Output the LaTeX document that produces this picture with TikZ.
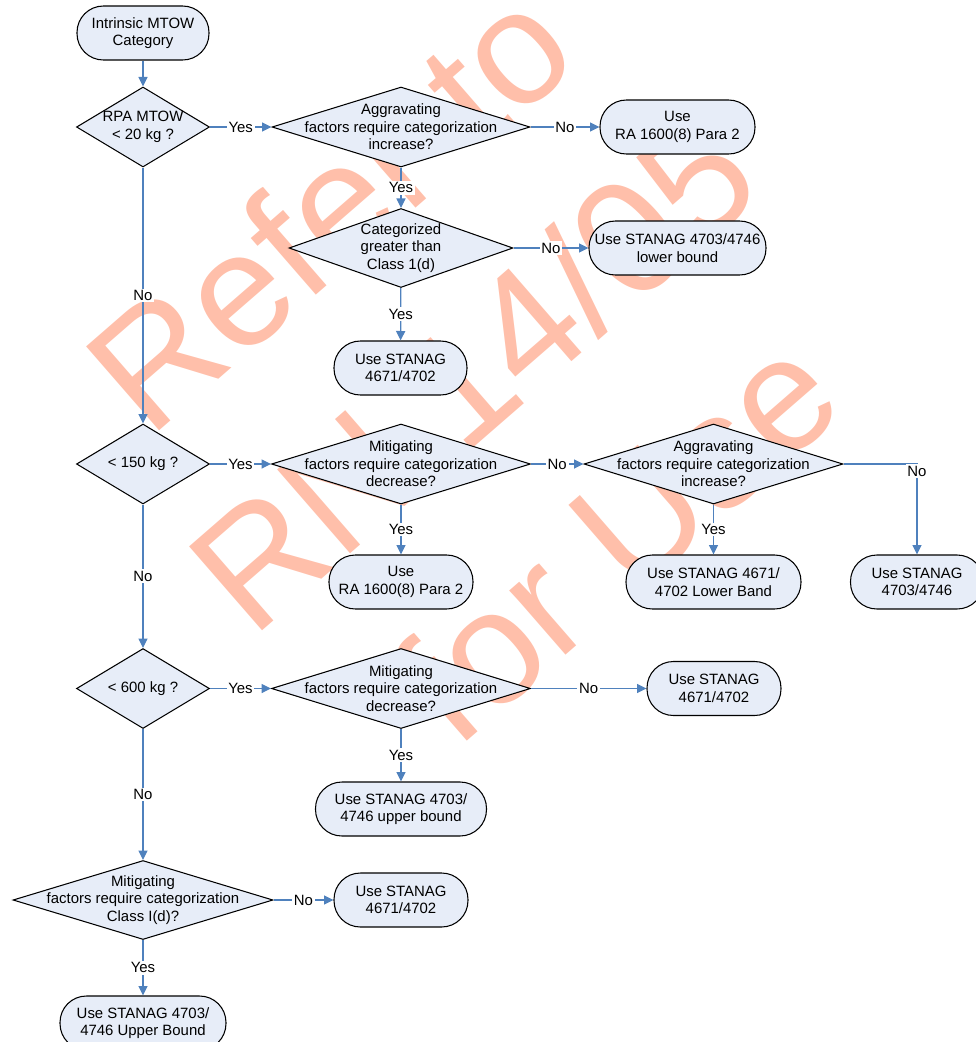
\documentclass[tikz,border=0pt]{standalone}
\usepackage{fontspec}
\setmainfont{Liberation Sans}
\usetikzlibrary{shapes.geometric, arrows.meta}
\definecolor{flowblue}{RGB}{79,129,189}
\definecolor{boxfill}{RGB}{231,237,248}
\definecolor{wmarkred}{RGB}{255,191,170}

\begin{document}
\begin{tikzpicture}[x=0.02cm, y=-0.02cm,
    every node/.style={font=\fontsize{8.5}{9.9}\selectfont},
    term/.style={draw, line width=0.6pt, fill=boxfill, rounded corners=15pt, align=center, minimum height=1.08cm, inner sep=1pt},
    dec/.style={draw, line width=0.6pt, fill=boxfill, diamond, align=center, inner sep=-80pt, minimum height=1.6cm},
    flow/.style={flowblue, line width=0.7pt, -{Triangle[length=5.4pt, width=5.2pt]}},
    lbl/.style={fill=white, text=black, inner sep=1pt},
    wmark/.style={text=wmarkred, align=center, font=\fontsize{92}{124}\selectfont}
  ]
  \useasboundingbox (0,0) rectangle (976,1042);

  % watermark
  \node[wmark, rotate=41] (wm) at (472,372) {Refer to\\RN 14/05\\for Use};

  % first column
  \node[term, minimum width=2.64cm] (start) at (143,33) {Intrinsic MTOW\\Category};
  \node[dec, minimum width=2.66cm] (q20) at (143,127) {RPA MTOW\\< 20 kg ?};
  \node[dec, minimum width=2.66cm] (q150) at (143,464) {< 150 kg ?};
  \node[dec, minimum width=2.66cm] (q600) at (143,688.5) {< 600 kg ?};
  \node[dec, minimum width=5.2cm, minimum height=1.58cm] (mitcls) at (143,900) {Mitigating\\factors require categorization\\Class I(d)?};
  \node[term, minimum width=3.32cm] (upBound) at (143,1023) {Use STANAG 4703/\\4746 Upper Bound};

  % < 20 kg branch
  \node[dec, minimum width=5.16cm] (agg1) at (401,127) {Aggravating\\factors require categorization\\increase?};
  \node[term, minimum width=3.1cm] (ra1) at (677.5,127) {Use\\RA 1600(8) Para 2};
  \node[dec, minimum width=4.48cm, minimum height=1.58cm] (cat1d) at (401,248) {Categorized\\greater than\\Class 1(d)};
  \node[term, minimum width=3.54cm] (lowbnd) at (677.5,248) {Use STANAG 4703/4746\\lower bound};
  \node[term, minimum width=2.66cm] (st1) at (400.5,368) {Use STANAG\\4671/4702};

  % < 150 kg branch
  \node[dec, minimum width=5.18cm] (mit1) at (401,464) {Mitigating\\factors require categorization\\decrease?};
  \node[term, minimum width=2.88cm] (ra2) at (401,582) {Use\\RA 1600(8) Para 2};
  \node[dec, minimum width=5.18cm] (agg2) at (713.5,464) {Aggravating\\factors require categorization\\increase?};
  \node[term, minimum width=3.5cm] (lowband) at (713.5,582) {Use STANAG 4671/\\4702 Lower Band};
  \node[term, minimum width=2.66cm] (st2) at (917,582) {Use STANAG\\4703/4746};

  % < 600 kg branch
  \node[dec, minimum width=5.18cm] (mit2) at (401,688.5) {Mitigating\\factors require categorization\\decrease?};
  \node[term, minimum width=2.68cm] (st3) at (714,688.5) {Use STANAG\\4671/4702};
  \node[term, minimum width=3.42cm] (upbnd) at (401,809) {Use STANAG 4703/\\4746 upper bound};
  \node[term, minimum width=2.68cm] (st4) at (401,900) {Use STANAG\\4671/4702};

  % connectors
  \draw[flow] (start) -- (q20);
  \draw[flow] (q20) -- node[lbl] {Yes} (agg1);
  \draw[flow] (agg1) -- node[lbl] {No} (ra1);
  \draw[flow] (agg1) -- node[lbl] {Yes} (cat1d);
  \draw[flow] (cat1d) -- node[lbl] {No} (lowbnd);
  \draw[flow] (cat1d) -- node[lbl] {Yes} (st1);
  \draw[flow] (q20) -- node[lbl] {No} (q150);
  \draw[flow] (q150) -- node[lbl] {Yes} (mit1);
  \draw[flow] (mit1) -- node[lbl] {No} (agg2);
  \draw[flow] (mit1) -- node[lbl] {Yes} (ra2);
  \draw[flow] (agg2) -- node[lbl] {Yes} (lowband);
  \draw[flow] (agg2.east) -| node[lbl, pos=0.54] {No} (st2.north);
  \draw[flow] (q150) -- node[lbl] {No} (q600);
  \draw[flow] (q600) -- node[lbl] {Yes} (mit2);
  \draw[flow] (mit2) -- node[lbl] {No} (st3);
  \draw[flow] (mit2) -- node[lbl] {Yes} (upbnd);
  \draw[flow] (q600) -- node[lbl] {No} (mitcls);
  \draw[flow] (mitcls) -- node[lbl] {No} (st4);
  \draw[flow] (mitcls) -- node[lbl] {Yes} (upBound);
\end{tikzpicture}
\end{document}
